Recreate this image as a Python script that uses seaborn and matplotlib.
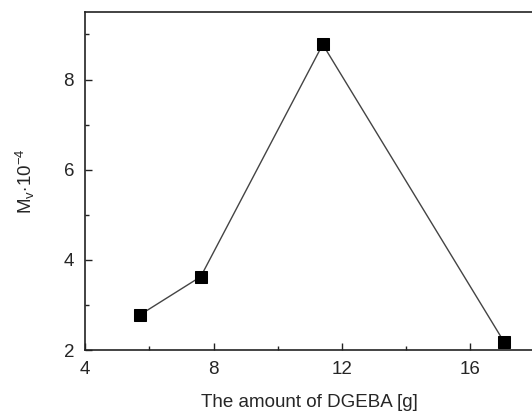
import numpy as np
import pandas as pd
import seaborn as sns
import matplotlib.pyplot as plt
from matplotlib.ticker import MultipleLocator

# data
dgeba_g = [5.7, 7.6, 11.4, 17.05]
mv_e4 = [2.78, 3.63, 8.78, 2.18]

df = pd.DataFrame({'dgeba': dgeba_g, 'mv': mv_e4})

sns.set_theme(style='ticks')
plt.rcParams['font.family'] = ['Liberation Sans', 'DejaVu Sans']
plt.rcParams['mathtext.fontset'] = 'custom'
plt.rcParams['mathtext.rm'] = 'Liberation Sans'
plt.rcParams['mathtext.it'] = 'Liberation Sans:italic'

fig = plt.figure(figsize=(5.32, 4.12), dpi=100)
ax = fig.add_axes([0.16, 0.15, 0.845, 0.821])

sns.lineplot(data=df, x='dgeba', y='mv', ax=ax, color='#444444', linewidth=1.0,
             marker='s', markersize=8, markerfacecolor='black',
             markeredgecolor='black')

ax.set_xlim(4, 18)
ax.set_ylim(2, 9.5)
ax.xaxis.set_major_locator(MultipleLocator(4))
ax.xaxis.set_minor_locator(MultipleLocator(2))
ax.yaxis.set_major_locator(MultipleLocator(2))
ax.yaxis.set_minor_locator(MultipleLocator(1))
ax.tick_params(which='both', direction='in', top=False, right=False,
               labelsize=13.5, width=1.0, color='#222222')
ax.tick_params(which='major', length=5, pad=8)
ax.tick_params(which='minor', length=3)
for s in ax.spines.values():
    s.set_linewidth(1.2)
    s.set_color('#222222')
ax.spines['right'].set_visible(False)

ax.set_xlabel('The amount of DGEBA [g]', fontsize=13.5, labelpad=11)
ax.set_ylabel(r'M$_\mathrm{v}$$\cdot$10$^{-4}$', fontsize=13.5, labelpad=19)

fig.savefig('out.png', dpi=100)
